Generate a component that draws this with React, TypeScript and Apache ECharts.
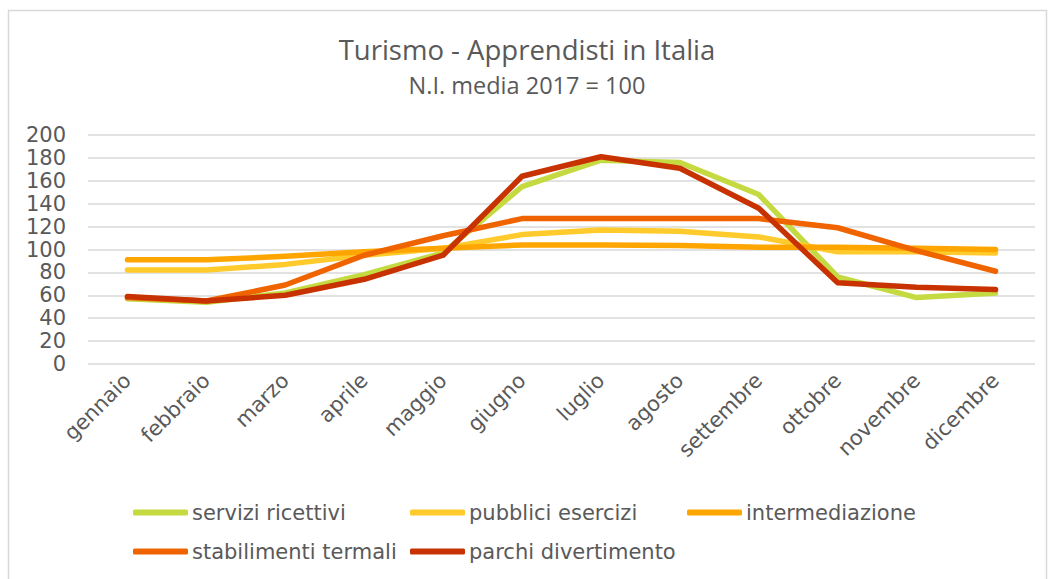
import React, { useEffect, useRef } from "react";
import * as echarts from "echarts";

const months = ["gennaio", "febbraio", "marzo", "aprile", "maggio", "giugno", "luglio", "agosto", "settembre", "ottobre", "novembre", "dicembre"];
const seriesNames = ["servizi ricettivi", "pubblici esercizi", "intermediazione", "stabilimenti termali", "parchi divertimento"];
const serviziRicettivi = [57, 54, 62, 78, 97, 155, 178, 176, 148, 76, 58, 62];
const pubbliciEsercizi = [82, 82, 87, 95, 101, 113, 117, 116, 111, 98, 98, 97];
const intermediazione = [91, 91, 94, 98, 101, 104, 104, 103.5, 102, 102, 101, 100];
const stabilimentiTermali = [58, 55, 69, 95, 112, 127, 127, 127, 127, 119, 99, 81];
const parchiDivertimento = [59, 55, 60, 74, 95, 164, 181, 171, 136, 71, 67, 65];
const colors = ["#C5D940", "#FFCA2C", "#FFA500", "#F06400", "#C83200"];
const yTicks = { min: 0, max: 200, interval: 20 };

const FONT = "'DejaVu Sans', Verdana, sans-serif";

export default function App() {
  const ref = useRef<HTMLDivElement>(null);
  useEffect(() => {
    const chart = echarts.init(ref.current!, undefined, { renderer: "svg" });
    const values = [serviziRicettivi, pubbliciEsercizi, intermediazione, stabilimentiTermali, parchiDivertimento];
    const legendPos = [
      [133, 502], [410, 502], [687, 502],
      [133, 541], [410, 541],
    ];
    chart.setOption({
      animation: false,
      backgroundColor: "#ffffff",
      color: colors,
      title: {
        text: "Turismo - Apprendisti in Italia",
        subtext: "N.I. media 2017 = 100",
        left: "center",
        top: 30,
        itemGap: 10,
        textStyle: { fontFamily: "'Open Sans'", fontSize: 27.5, fontWeight: "normal", color: "#595959" },
        subtextStyle: { fontFamily: "'Open Sans'", fontSize: 23.5, color: "#595959" },
      },
      graphic: [
        {
          type: "rect",
          shape: { x: 8.5, y: 10.5, width: 1038, height: 600 },
          style: { fill: "none", stroke: "#d9d9d9", lineWidth: 1.5 },
          silent: true,
        },
      ],
      legend: seriesNames.map((n, i) => ({
        data: [n],
        left: legendPos[i][0],
        top: legendPos[i][1],
        padding: 0,
        icon: "roundRect",
        itemWidth: 55,
        itemHeight: 6,
        textStyle: { fontFamily: FONT, fontSize: 21, color: "#595959", padding: [0, 0, 0, -1] },
      })),
      grid: { left: 88, right: 19, top: 135, bottom: 215, containLabel: false },
      xAxis: {
        type: "category",
        data: months,
        boundaryGap: true,
        axisLine: { show: false },
        axisTick: { show: false },
        axisLabel: { rotate: 45, margin: 13, interval: 0, fontFamily: FONT, fontSize: 21, color: "#595959" },
      },
      yAxis: {
        type: "value",
        min: yTicks.min,
        max: yTicks.max,
        interval: yTicks.interval,
        axisLine: { show: false },
        axisTick: { show: false },
        axisLabel: { margin: 22, fontFamily: FONT, fontSize: 21, color: "#595959" },
        splitLine: { lineStyle: { color: "#d9d9d9", width: 1.5 } },
      },
      series: seriesNames.map((n, i) => ({
        name: n,
        type: "line",
        data: values[i],
        symbol: "none",
        lineStyle: { width: 5.5, color: colors[i], cap: "round", join: "round" },
        itemStyle: { color: colors[i] },
      })),
    });
    return () => chart.dispose();
  }, []);
  return <div ref={ref} style={{ position: "fixed", left: 0, top: 0, width: 1054, height: 579 }} />;
}
